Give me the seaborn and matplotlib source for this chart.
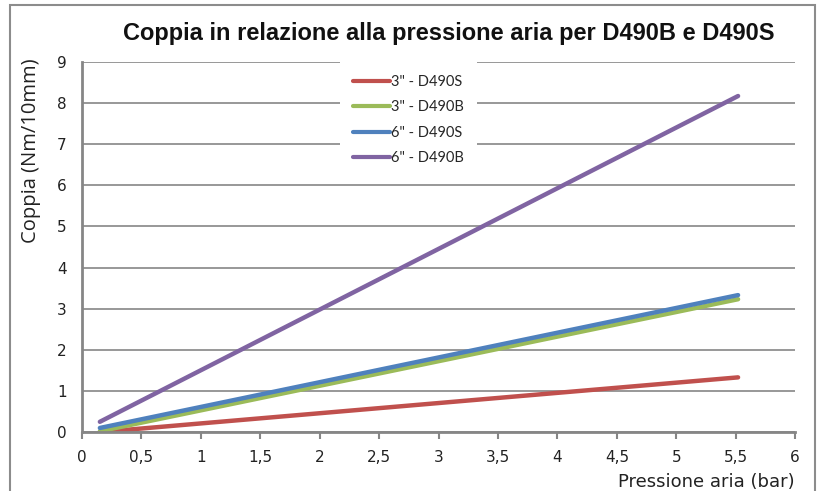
import pandas as pd
import numpy as np
import matplotlib
matplotlib.use('Agg')
import matplotlib.pyplot as plt
import seaborn as sns
from matplotlib.ticker import FuncFormatter

# Data
series = ['3" - D490S', '3" - D490B', '6" - D490S', '6" - D490B']
pressione = [0.15, 5.52]
coppia_3_s = [0.0, 1.33]
coppia_3_b = [0.02, 3.23]
coppia_6_s = [0.1, 3.33]
coppia_6_b = [0.25, 8.17]
colors = ['#C0504D', '#9BBB59', '#4F81BD', '#8064A2']

rows = []
for name, vals in zip(series, [coppia_3_s, coppia_3_b, coppia_6_s, coppia_6_b]):
    for x, y in zip(pressione, vals):
        rows.append({'pressione': x, 'coppia': y, 'serie': name})
data = pd.DataFrame(rows)

sns.set_style('white')
plt.rcParams['font.family'] = ['DejaVu Sans']

fig = plt.figure(figsize=(8.22, 4.91), dpi=100)
ax = fig.add_axes([0.0998, 0.12, 0.8675, 0.754])

# frame around the whole picture
fig.patches.append(plt.Rectangle((0.012, -0.02), 0.979, 1.01, transform=fig.transFigure,
                                 fill=False, edgecolor='#8c8c8c', linewidth=1.5))

sns.lineplot(data=data, x='pressione', y='coppia', hue='serie', palette=colors,
             linewidth=3.2, ax=ax, legend=True)

ax.set_xlim(0, 6)
ax.set_ylim(0, 9)
ax.set_xticks(np.arange(0, 6.01, 0.5))
ax.set_yticks(range(0, 10))
fmt = FuncFormatter(lambda v, p: ('%g' % v).replace('.', ','))
ax.xaxis.set_major_formatter(fmt)

ax.yaxis.grid(True, color='#868686', linewidth=1.2)
ax.xaxis.grid(False)
for s in ['top', 'right']:
    ax.spines[s].set_visible(False)
for s in ['left', 'bottom']:
    ax.spines[s].set_color('#868686')
    ax.spines[s].set_linewidth(2)

ax.tick_params(axis='x', which='major', direction='out', length=5, width=1.5,
               color='#868686', labelsize=11, labelcolor='#222222', pad=8, bottom=True)
ax.tick_params(axis='y', length=0, labelsize=11, labelcolor='#222222', pad=11)

ax.set_xlabel('Pressione aria (bar)', fontsize=13, color='#222222', loc='right', labelpad=6)
ax.set_ylabel('Coppia (Nm/10mm)', fontsize=14.5, color='#222222', family=['Open Sans', 'DejaVu Sans'])
ax.yaxis.set_label_coords(-0.057, 0.76)

fig.text(0.546, 0.932, 'Coppia in relazione alla pressione aria per D490B e D490S',
         ha='center', va='center', fontsize=17, fontweight='bold',
         family=['Liberation Sans', 'DejaVu Sans'], color='#111111')

leg = ax.legend(loc='upper left', bbox_to_anchor=(0.362, 1.0), frameon=True,
                fancybox=False, edgecolor='white', facecolor='white', framealpha=1,
                prop={'family': 'Lato', 'size': 10.5}, handlelength=2.5,
                handletextpad=0.1, labelspacing=0.78, borderpad=0.9, borderaxespad=0)
leg.get_frame().set_linewidth(0)
for h in leg.get_lines():
    h.set_linewidth(3)

fig.savefig('out.png', dpi=100)
